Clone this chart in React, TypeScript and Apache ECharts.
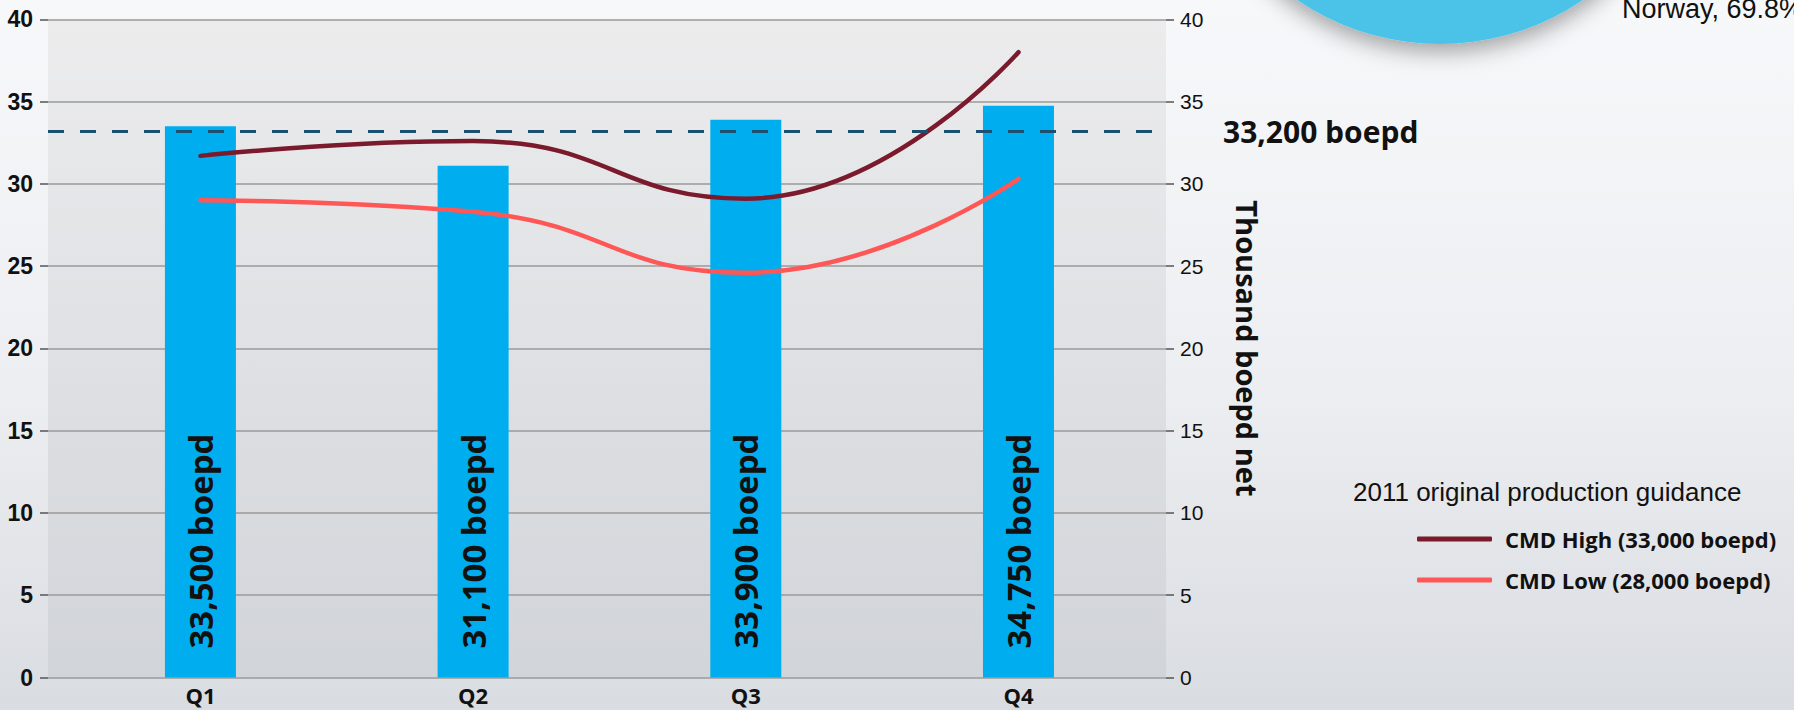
import React, { useEffect, useRef } from "react";
import * as echarts from "echarts";

const categories = ["Q1", "Q2", "Q3", "Q4"];
const production = [33.5, 31.1, 33.9, 34.75];
const cmdHigh = [31.7, 32.6, 29.1, 38.0];
const cmdLow = [29.0, 28.3, 24.6, 30.3];
const averageLevel = 33.2;
const seriesNames = ["CMD High (33,000 boepd)", "CMD Low (28,000 boepd)"];
const legendTitle = "2011 original production guidance";
const axisName = "Thousand boepd net";
const pieLabel = "Norway, 69.8%";
const yMin = 0;
const yMax = 40;
const yInterval = 5;

const NARROW = "'Liberation Sans', Arial, sans-serif";
const SANS = "'Open Sans', 'Noto Sans', sans-serif";

const fmtBoepd = (v: number) =>
  Math.round(v * 1000).toLocaleString("en-US") + " boepd";

export default function App() {
  const ref = useRef<HTMLDivElement>(null);
  useEffect(() => {
    if (!ref.current) return;
    const chart = echarts.init(ref.current, null, { renderer: "svg" });
    const xMin = -0.559;
    const xMax = 3.541;
    const option: any = {
      animation: false,
      backgroundColor: {
        type: "linear", x: 0, y: 0, x2: 0, y2: 1,
        colorStops: [
          { offset: 0, color: "#f7f8fa" },
          { offset: 0.55, color: "#eceef1" },
          { offset: 1, color: "#d9dce1" },
        ],
      },
      grid: {
        left: 48, right: 628, top: 19.3, bottom: 32.5,
        show: true, borderWidth: 0,
        backgroundColor: {
          type: "linear", x: 0, y: 0, x2: 0, y2: 1,
          colorStops: [
            { offset: 0, color: "#ececed" },
            { offset: 0.5, color: "#dfe1e4" },
            { offset: 1, color: "#d1d4d9" },
          ],
        },
      },
      title: {
        text: legendTitle,
        left: 1353, top: 479, padding: 0,
        textStyle: { fontFamily: NARROW, fontWeight: "normal", fontSize: 26, color: "#111" },
      },
      legend: {
        data: seriesNames,
        orient: "vertical",
        left: 1412, top: 522,
        itemWidth: 75, itemHeight: 5, itemGap: 17,
        icon: "roundRect",
        textStyle: {
          fontFamily: SANS, fontWeight: "bold", fontSize: 22, color: "#111",
          lineHeight: 24, padding: [0, 0, 0, 8],
        },
      },
      xAxis: {
        type: "value", min: xMin, max: xMax,
        axisLine: { show: false, onZero: false }, axisTick: { show: false }, splitLine: { show: false },
        axisLabel: {
          customValues: categories.map((_, i) => i),
          formatter: (v: number) => categories[Math.round(v)] ?? "",
          margin: 5, lineHeight: 24,
          fontFamily: SANS, fontWeight: "bold", fontSize: 22, color: "#111",
        },
      },
      yAxis: [
        {
          type: "value", min: yMin, max: yMax, interval: yInterval, position: "left",
          axisLine: { show: false, onZero: false },
          axisTick: { show: true, length: 8, lineStyle: { color: "#555", width: 1.5 } },
          axisLabel: { margin: 15, fontFamily: NARROW, fontWeight: "bold", fontSize: 23, color: "#111" },
          splitLine: { show: true, lineStyle: { color: "#9a9a9a", width: 1.5 } },
        },
        {
          type: "value", min: yMin, max: yMax, interval: yInterval, position: "right",
          name: axisName, nameLocation: "middle", nameRotate: -90, nameGap: 67,
          nameTextStyle: { fontFamily: SANS, fontWeight: "bold", fontSize: 29, color: "#111" },
          axisLine: { show: false, onZero: false },
          axisTick: { show: true, length: 8, lineStyle: { color: "#555", width: 1.5 } },
          axisLabel: { margin: 14, fontFamily: NARROW, fontSize: 21, color: "#111" },
          splitLine: { show: false },
        },
      ],
      series: [
        {
          type: "bar",
          name: "Production",
          data: production.map((v, i) => [i, v]),
          barWidth: 71,
          itemStyle: { color: "#00aeef" },
          label: {
            show: true, position: "insideBottom", rotate: 90, distance: 29,
            align: "left", verticalAlign: "middle",
            formatter: (p: any) => fmtBoepd(p.value[1]),
            fontFamily: SANS, fontWeight: "bold", fontSize: 33, color: "#111",
          },
          markLine: {
            silent: true, symbol: "none",
            lineStyle: { color: "#1b5070", width: 3, type: [16, 16] },
            label: {
              show: true, position: "end", distance: 57,
              formatter: () => fmtBoepd(averageLevel),
              fontFamily: SANS, fontWeight: "bold", fontSize: 30, color: "#111",
            },
            data: [{ yAxis: averageLevel }],
          },
          z: 2,
        },
        {
          type: "line",
          name: seriesNames[0],
          data: cmdHigh.map((v, i) => [i, v]),
          smooth: true, showSymbol: false, symbol: "none",
          lineStyle: { color: "#7a1a2c", width: 4.5, cap: "round" },
          itemStyle: { color: "#7a1a2c" },
          z: 3,
        },
        {
          type: "line",
          name: seriesNames[1],
          data: cmdLow.map((v, i) => [i, v]),
          smooth: true, showSymbol: false, symbol: "none",
          lineStyle: { color: "#ff5656", width: 4.5, cap: "round" },
          itemStyle: { color: "#ff5656" },
          z: 3,
        },
      ],
      graphic: [
        {
          type: "circle",
          shape: { cx: 1440, cy: -210, r: 254 },
          style: {
            fill: "#4cc3e9",
            shadowBlur: 22, shadowColor: "rgba(0,0,0,0.35)", shadowOffsetY: 8,
          },
          z: 10,
        },
        {
          type: "text",
          style: {
            text: pieLabel, x: 1622, y: 9,
            font: `normal 27px ${NARROW}`,
            fill: "#111", align: "left", verticalAlign: "middle",
          },
          z: 10,
        },
      ],
    };
    chart.setOption(option);
    return () => chart.dispose();
  }, []);
  return (
    <div
      ref={ref}
      style={{ position: "fixed", left: 0, top: 0, width: 1794, height: 710 }}
    />
  );
}
